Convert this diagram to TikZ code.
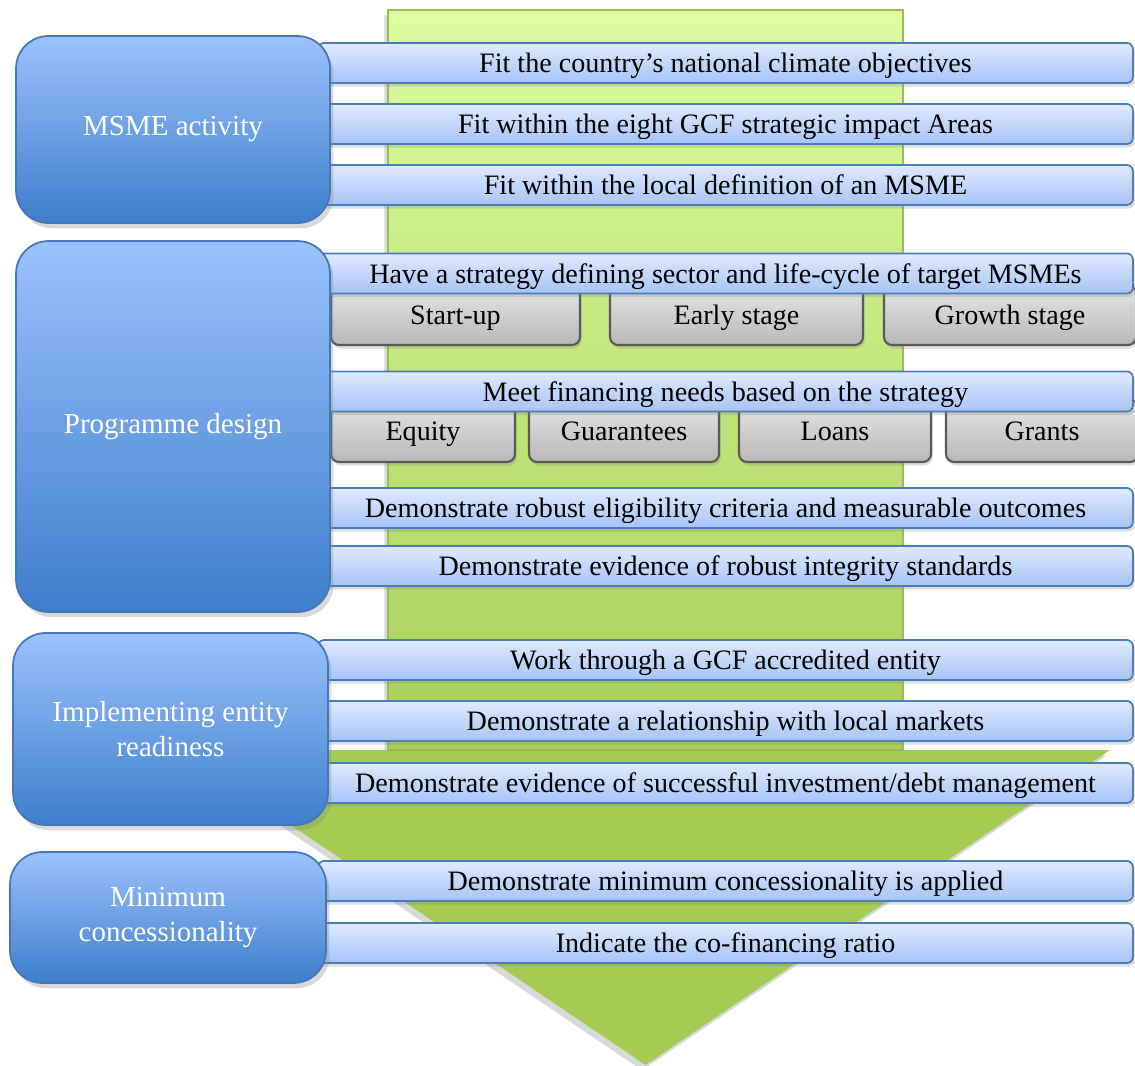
\documentclass[tikz,border=0pt]{standalone}
\usepackage{fontspec}
\setmainfont{Liberation Serif}
\usepackage{xcolor}
\usepackage{tikz}
\usetikzlibrary{shadows}
\definecolor{boxtop}{RGB}{155,194,252}
\definecolor{boxbot}{RGB}{62,126,203}
\definecolor{boxline}{RGB}{69,118,184}
\definecolor{bartop}{RGB}{224,234,254}
\definecolor{barbot}{RGB}{166,196,246}
\definecolor{barline}{RGB}{74,126,187}
\definecolor{greytop}{RGB}{230,230,230}
\definecolor{greybot}{RGB}{184,184,184}
\definecolor{greyline}{RGB}{90,90,90}
\definecolor{shafttop}{RGB}{220,252,160}
\definecolor{shaftbot}{RGB}{168,207,88}
\definecolor{headgreen}{RGB}{165,204,82}
\definecolor{arrowline}{RGB}{155,187,89}
\tikzset{
  stagebox/.style={draw=boxline,line width=1pt,rounded corners=0.65cm,top color=boxtop,bottom color=boxbot,
    text=white,font=\fontsize{16.5}{20}\selectfont,align=center,inner sep=0pt,
    drop shadow={shadow xshift=2pt,shadow yshift=-3pt,opacity=0.3}},
  critbar/.style={draw=barline,line width=1pt,rounded corners=0.12cm,top color=bartop,bottom color=barbot,
    font=\fontsize{16}{19}\selectfont,minimum width=16.3cm,minimum height=0.8cm,inner sep=0pt,
    text height=13pt,text depth=2pt,
    drop shadow={shadow xshift=1pt,shadow yshift=-2pt,opacity=0.25}},
  optbox/.style={draw=greyline,line width=1.2pt,rounded corners=0.16cm,top color=greytop,bottom color=greybot,
    font=\fontsize{16}{19}\selectfont,inner sep=0pt,text height=13pt,text depth=2pt,
    drop shadow={shadow xshift=1pt,shadow yshift=-2pt,opacity=0.25}}
}
\begin{document}
\begin{tikzpicture}[x=0.02cm,y=-0.02cm]
  \useasboundingbox (0,0) rectangle (1135,1065);
  % green arrow behind everything
  \fill[headgreen,drop shadow={shadow xshift=-2pt,shadow yshift=-3pt,opacity=0.3}]
    (388,10) -- (903,10) -- (903,750) -- (1110,750) -- (645.5,1065) -- (180,750) -- (388,750) -- cycle;
  \shade[top color=shafttop,bottom color=shaftbot,draw=arrowline,line width=1pt] (388,10) rectangle (903,750);

  % life-cycle and instrument boxes
  \node[optbox,minimum width=4.98cm,minimum height=1.2cm] (startup) at (455.5,315) {Start-up};
  \node[optbox,minimum width=5.06cm,minimum height=1.2cm] (early) at (736.5,315) {Early stage};
  \node[optbox,minimum width=5.04cm,minimum height=1.2cm] (growth) at (1010,315) {Growth stage};
  \node[optbox,minimum width=3.68cm,minimum height=1.24cm] (equity) at (423,431) {Equity};
  \node[optbox,minimum width=3.8cm,minimum height=1.24cm] (guar) at (624,431) {Guarantees};
  \node[optbox,minimum width=3.84cm,minimum height=1.24cm] (loans) at (835,431) {Loans};
  \node[optbox,minimum width=3.84cm,minimum height=1.24cm] (grants) at (1042,431) {Grants};

  % criteria bars
  \node[critbar] (fitobj) at (725.5,63) {Fit the country’s national climate objectives};
  \node[critbar] (fitgcf) at (725.5,124) {Fit within the eight GCF strategic impact Areas};
  \node[critbar] (fitlocal) at (725.5,185) {Fit within the local definition of an MSME};
  \node[critbar] (strategy) at (725.5,273.5) {Have a strategy defining sector and life-cycle of target MSMEs};
  \node[critbar] (finneeds) at (725.5,391.5) {Meet financing needs based on the strategy};
  \node[critbar] (eligib) at (725.5,508) {Demonstrate robust eligibility criteria and measurable outcomes};
  \node[critbar] (integ) at (725.5,566) {Demonstrate evidence of robust integrity standards};
  \node[critbar] (accred) at (725.5,660) {Work through a GCF accredited entity};
  \node[critbar] (localmkt) at (725.5,721) {Demonstrate a relationship with local markets};
  \node[critbar] (debtmgmt) at (725.5,783) {Demonstrate evidence of successful investment/debt management};
  \node[critbar] (minconapp) at (725.5,881) {Demonstrate minimum concessionality is applied};
  \node[critbar] (cofin) at (725.5,943) {Indicate the co-financing ratio};

  % stage boxes on the left
  \node[stagebox,minimum width=6.28cm,minimum height=3.74cm] (msme) at (173,129.5) {MSME activity};
  \node[stagebox,minimum width=6.28cm,minimum height=7.42cm] (progdesign) at (173,426.5) {Programme design};
  \node[stagebox,minimum width=6.3cm,minimum height=3.84cm] (ieready) at (170.5,729) {Implementing entity\\readiness};
  \node[stagebox,minimum width=6.32cm,minimum height=2.62cm] (mincon) at (168,917.5) {Minimum\\concessionality};
\end{tikzpicture}
\end{document}
